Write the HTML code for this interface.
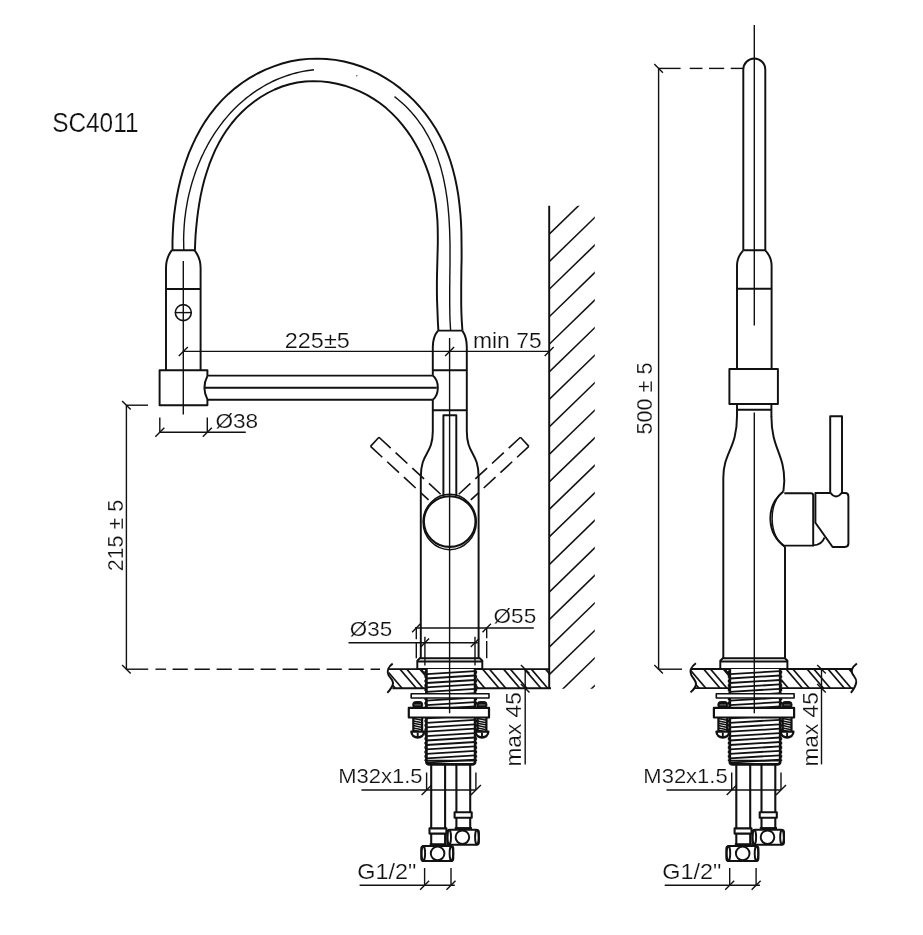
<!DOCTYPE html>
<html><head><meta charset="utf-8"><title>SC4011</title>
<style>
html,body{margin:0;padding:0;background:#fff;}
body{width:923px;height:935px;overflow:hidden;}
svg{display:block;}
text{font-family:"Liberation Sans",sans-serif;fill:#111;stroke:#fff;stroke-width:0.2px;}
svg{filter:grayscale(1);}
.m{fill:none;stroke:#111;stroke-width:1.95;stroke-linecap:butt;stroke-linejoin:round;}
.mw{fill:#fff;stroke:#111;stroke-width:1.95;stroke-linejoin:round;}
.k{fill:none;stroke:#111;stroke-width:2.2;stroke-linejoin:round;}
.kf{fill:#111;stroke:#111;stroke-width:1;}
.t{fill:none;stroke:#111;stroke-width:1.4;}
.h{fill:none;stroke:#111;stroke-width:1.7;}
.wh{fill:none;stroke:#111;stroke-width:1.55;}
.th{fill:none;stroke:#111;stroke-width:1.8;}
.tb{fill:none;stroke:#111;stroke-width:2.1;}
.k2{fill:none;stroke:#111;stroke-width:2.7;stroke-linejoin:round;}
.d{fill:none;stroke:#111;stroke-width:1.6;stroke-dasharray:16 6.7;}
</style></head>
<body>
<svg width="923" height="935" viewBox="0 0 923 935">
<rect width="923" height="935" fill="#fff"/>
<path class="m" d="M172.5,250.0 L172.5,241.4 L172.8,232.7 L173.3,223.9 L174.1,215.1 L175.3,206.1 L176.7,197.2 L178.5,188.2 L180.6,179.3 L183.0,170.5 L185.8,161.8 L188.9,153.2 L192.5,144.9 L196.4,136.7 L200.7,128.8 L205.4,121.1 L210.5,113.8 L216.0,106.8 L222.0,100.1 L228.4,93.9 L235.2,88.1 L242.3,82.7 L249.7,77.9 L257.5,73.5 L265.5,69.6 L273.8,66.3 L282.2,63.5 L290.8,61.3 L299.6,59.8 L308.4,58.9 L317.4,58.6 L326.3,59.0 L335.2,59.9 L344.1,61.5 L352.8,63.7 L361.3,66.5 L369.7,69.8 L377.8,73.7 L385.6,78.1 L393.2,83.0 L400.4,88.4 L407.3,94.2 L413.8,100.4 L419.9,107.0 L425.6,113.9 L430.9,121.2 L435.8,128.7 L440.1,136.5 L444.0,144.4 L447.4,152.6 L450.4,161.0 L452.9,169.5 L455.1,178.2 L456.9,187.0 L458.4,195.9 L459.5,204.8 L460.4,213.8 L461.0,222.8 L461.4,231.9 L461.5,240.9 L461.6,250.0 L461.6,259.1 L461.4,268.1 L461.3,277.1 L461.2,286.1 L461.2,295.1 L461.2,304.0 L461.4,312.8 L461.8,321.6 L462.4,330.2" />
<path class="m" d="M194.9,250.2 L195.2,242.5 L195.6,234.7 L196.3,226.9 L197.1,219.0 L198.1,211.1 L199.3,203.3 L200.7,195.4 L202.4,187.6 L204.4,179.8 L206.7,172.2 L209.2,164.7 L212.1,157.3 L215.2,150.1 L218.8,143.1 L222.7,136.3 L226.9,129.8 L231.6,123.5 L236.7,117.4 L242.2,111.7 L248.0,106.4 L254.3,101.5 L260.8,97.0 L267.6,93.0 L274.7,89.5 L282.1,86.5 L289.6,84.2 L297.3,82.5 L305.2,81.5 L313.1,81.1 L321.1,81.4 L329.1,82.3 L337.0,83.7 L344.8,85.7 L352.4,88.3 L359.8,91.3 L366.9,94.9 L373.6,98.9 L380.1,103.3 L386.2,108.1 L391.9,113.4 L397.3,118.9 L402.4,124.8 L407.2,131.1 L411.6,137.5 L415.6,144.3 L419.4,151.3 L422.7,158.4 L425.8,165.8 L428.5,173.3 L430.8,180.9 L432.8,188.6 L434.5,196.4 L435.8,204.3 L436.7,212.1 L437.4,220.0 L437.7,227.9 L437.8,235.8 L437.8,243.7 L437.6,251.6 L437.4,259.5 L437.2,267.4 L437.0,275.3 L436.9,283.2 L436.9,291.1 L437.0,299.0 L437.3,306.9 L437.6,314.8 L437.9,322.7 L438.4,330.6" />
<path class="t" d="M183.9,250.2 L183.7,246.7 L183.7,243.3 L183.6,239.8 L183.7,236.3 L183.8,232.7 L184.0,229.2 L184.2,225.7 L184.5,222.2 L184.8,218.6 L185.3,215.1 L185.7,211.6 L186.3,208.1 L186.9,204.6 L187.5,201.1 L188.2,197.6 L189.0,194.1 L189.9,190.6 L190.8,187.1 L191.7,183.7 L192.8,180.3 L193.9,176.9 L195.0,173.5 L196.2,170.1 L197.5,166.8 L198.8,163.5 L200.2,160.2 L201.6,156.9 L203.2,153.7 L204.7,150.5 L206.4,147.4 L208.0,144.3 L209.8,141.2 L211.6,138.1 L213.5,135.1 L215.4,132.2 L217.4,129.3 L219.5,126.4 L221.6,123.6 L223.7,120.8 L226.0,118.1 L228.3,115.4 L230.6,112.8 L233.0,110.3 L235.5,107.8 L238.0,105.3 L240.6,103.0 L243.2,100.7 L245.9,98.4 L248.7,96.3 L251.5,94.1 L254.3,92.1 L257.2,90.2 L260.2,88.3 L263.2,86.5 L266.3,84.7 L269.4,83.1 L272.5,81.5 L275.7,80.0 L279.0,78.6 L282.3,77.3 L285.6,76.1 L289.0,75.0 L292.5,73.9 L295.9,73.0 L299.5,72.1 L303.0,71.4 L306.6,70.7 L310.3,70.2 L314.0,69.7" />
<path class="t" d="M394.5,96.6 L397.5,99.0 L400.4,101.5 L403.3,104.0 L406.0,106.6 L408.6,109.2 L411.1,111.9 L413.5,114.7 L415.8,117.5 L418.0,120.3 L420.1,123.3 L422.2,126.2 L424.1,129.2 L425.9,132.3 L427.7,135.4 L429.4,138.5 L431.0,141.7 L432.5,144.9 L433.9,148.2 L435.3,151.5 L436.6,154.8 L437.8,158.2 L438.9,161.6 L440.0,165.0 L441.0,168.4 L441.9,171.9 L442.8,175.4 L443.6,178.9 L444.3,182.4 L445.0,186.0 L445.7,189.5 L446.2,193.1 L446.8,196.7 L447.3,200.3 L447.7,203.9 L448.1,207.5 L448.4,211.1 L448.7,214.8 L449.0,218.4 L449.2,222.0 L449.4,225.6 L449.6,229.3 L449.7,232.9 L449.8,236.5 L449.9,240.2 L450.0,243.8 L450.0,247.4 L450.0,251.1 L450.0,254.7 L450.0,258.3 L450.0,262.0 L450.0,265.6 L449.9,269.2 L449.9,272.9 L449.8,276.5 L449.8,280.1 L449.8,283.7 L449.7,287.3 L449.7,291.0 L449.7,294.6 L449.7,298.2 L449.7,301.8 L449.7,305.4 L449.8,309.0 L449.8,312.6 L449.9,316.2 L450.0,319.8 L450.2,323.3 L450.4,326.9 L450.6,330.5" />
<circle cx="356.8" cy="75.8" r="0.7" fill="#444"/>
<path class="m" d="M171.7,250.3 L194.6,250.3 M171.7,250.3 Q166,258 166,268 L166,370.3 M194.6,250.3 Q200.6,258 200.6,268 L200.6,370.3" />
<line class="m" x1="166.0" y1="289.0" x2="200.6" y2="289.0" />
<circle class="m" cx="183.3" cy="312.6" r="8" style="stroke-width:1.6"/>
<line class="t" x1="175.3" y1="312.6" x2="191.3" y2="312.6" />
<line class="t" x1="183.3" y1="261.0" x2="183.3" y2="414.5" />
<path class="m" d="M207.4,376 L207.4,370.3 L159.6,370.3 L159.6,405.2 L207.4,405.2 L207.4,399.4 Q201.5,387.6 207.4,376" />
<line class="m" x1="207.4" y1="375.6" x2="432.8" y2="375.6" />
<line class="m" x1="205.0" y1="387.7" x2="436.8" y2="387.7" />
<line class="m" x1="207.4" y1="399.8" x2="432.8" y2="399.8" />
<path class="m" d="M432.8,375.6 C439.5,381 439.5,394.5 432.8,399.8" />
<path class="m" d="M438,330.6 L462.3,330.6 M438,330.6 Q432.8,337 432.8,347 L432.8,375.6 M432.8,399.8 L432.8,431 M462.3,330.6 Q466.8,337 466.8,347 L466.8,431" />
<line class="m" x1="432.8" y1="370.2" x2="466.8" y2="370.2" />
<line class="m" x1="432.8" y1="410.2" x2="466.8" y2="410.2" />
<path class="m" d="M432.8,431 C432.8,455 420.8,452 420.8,477 L420.8,658" />
<path class="m" d="M466.8,431 C466.8,455 478.6,452 478.6,477 L478.6,658" />
<path class="m" d="M443.4,496 L443.4,415.2 L456.3,415.2 L456.3,496" />
<ellipse class="m" cx="449.70000000000005" cy="521.55" rx="25.8" ry="25.35" style="stroke-width:2.05"/>
<ellipse class="t" cx="449.70000000000005" cy="522" rx="26.6" ry="27.7" style="stroke-width:1.45"/>
<g transform="translate(449.70000000000005 511) scale(-1 1) rotate(-47.3)"><path class="d" d="M-6.2,-102 L-6.2,-23"/><path class="d" d="M6.2,-102 L6.2,-18"/><path class="d" d="M-6.2,-102 L6.2,-102"/></g>
<g transform="translate(449.70000000000005 511) scale(1 1) rotate(-47.3)"><path class="d" d="M-6.2,-102 L-6.2,-23"/><path class="d" d="M6.2,-102 L6.2,-18"/><path class="d" d="M-6.2,-102 L6.2,-102"/></g>
<line class="t" x1="183.3" y1="351.4" x2="549.2" y2="351.4" />
<line class="t" x1="178.8" y1="355.9" x2="187.8" y2="346.9" />
<line class="t" x1="445.1" y1="355.9" x2="454.1" y2="346.9" />
<line class="t" x1="544.7" y1="355.9" x2="553.7" y2="346.9" />
<text x="284.8" y="348.3" font-size="21.3" text-anchor="start" textLength="65.0" lengthAdjust="spacingAndGlyphs">225±5</text>
<text x="473.0" y="348.3" font-size="21.3" text-anchor="start" textLength="68.6" lengthAdjust="spacingAndGlyphs">min 75</text>
<line class="t" x1="159.8" y1="417.5" x2="159.8" y2="432.3" />
<line class="t" x1="207.3" y1="417.5" x2="207.3" y2="432.3" />
<line class="t" x1="159.8" y1="432.3" x2="245.8" y2="432.3" />
<line class="t" x1="155.3" y1="436.8" x2="164.3" y2="427.8" />
<line class="t" x1="202.8" y1="436.8" x2="211.8" y2="427.8" />
<text x="215.4" y="428.2" font-size="21" text-anchor="start" textLength="42.8" lengthAdjust="spacingAndGlyphs">Ø38</text>
<line class="t" x1="126.4" y1="405.2" x2="126.4" y2="669.2" />
<line class="t" x1="126.4" y1="405.2" x2="148.0" y2="405.2" />
<line class="t" x1="122.1" y1="400.9" x2="130.7" y2="409.5" />
<line class="t" x1="122.1" y1="664.9" x2="130.7" y2="673.5" />
<line class="t" x1="126.4" y1="669.2" x2="148.2" y2="669.2" />
<line class="t" x1="155.5" y1="669.2" x2="166.1" y2="669.2" />
<line class="t" x1="172.6" y1="669.2" x2="380.0" y2="669.2" stroke-dasharray="15.2 6.8"/>
<text x="0" y="0" font-size="22" textLength="71.4" lengthAdjust="spacingAndGlyphs" transform="translate(123.2 571.3) rotate(-90)">215 ± 5</text>
<line class="t" x1="414.9" y1="628.0" x2="533.8" y2="628.0" />
<line class="t" x1="348.5" y1="642.7" x2="477.8" y2="642.7" />
<text x="493.6" y="622.7" font-size="21" text-anchor="start" textLength="42.6" lengthAdjust="spacingAndGlyphs">Ø55</text>
<text x="349.8" y="636.3" font-size="21" text-anchor="start" textLength="42.3" lengthAdjust="spacingAndGlyphs">Ø35</text>
<line class="t" x1="416.3" y1="628.0" x2="416.3" y2="639.3" />
<line class="t" x1="416.3" y1="642.0" x2="416.3" y2="658.3" />
<line class="t" x1="486.7" y1="628.0" x2="486.7" y2="638.3" />
<line class="t" x1="486.7" y1="641.0" x2="486.7" y2="658.3" />
<line class="t" x1="412.1" y1="632.2" x2="420.5" y2="623.8" />
<line class="t" x1="482.5" y1="632.2" x2="490.9" y2="623.8" />
<line class="t" x1="420.7" y1="646.9" x2="429.1" y2="638.5" />
<line class="t" x1="470.8" y1="646.9" x2="479.2" y2="638.5" />
<clipPath id="wc"><rect x="549.2" y="205.7" width="45.6" height="483"/></clipPath>
<g clip-path="url(#wc)"><line class="wh" x1="549.2" y1="234.2" x2="609.2" y2="176.0"/><line class="wh" x1="549.2" y1="261.7" x2="609.2" y2="203.5"/><line class="wh" x1="549.2" y1="289.3" x2="609.2" y2="231.1"/><line class="wh" x1="549.2" y1="316.8" x2="609.2" y2="258.6"/><line class="wh" x1="549.2" y1="344.3" x2="609.2" y2="286.1"/><line class="wh" x1="549.2" y1="371.9" x2="609.2" y2="313.7"/><line class="wh" x1="549.2" y1="399.4" x2="609.2" y2="341.2"/><line class="wh" x1="549.2" y1="426.9" x2="609.2" y2="368.7"/><line class="wh" x1="549.2" y1="454.4" x2="609.2" y2="396.2"/><line class="wh" x1="549.2" y1="482.0" x2="609.2" y2="423.8"/><line class="wh" x1="549.2" y1="509.5" x2="609.2" y2="451.3"/><line class="wh" x1="549.2" y1="537.0" x2="609.2" y2="478.8"/><line class="wh" x1="549.2" y1="564.6" x2="609.2" y2="506.4"/><line class="wh" x1="549.2" y1="592.1" x2="609.2" y2="533.9"/><line class="wh" x1="549.2" y1="619.6" x2="609.2" y2="561.4"/><line class="wh" x1="549.2" y1="647.2" x2="609.2" y2="589.0"/><line class="wh" x1="549.2" y1="674.7" x2="609.2" y2="616.5"/><line class="wh" x1="549.2" y1="702.2" x2="609.2" y2="644.0"/><line class="wh" x1="549.2" y1="729.7" x2="609.2" y2="671.5"/><line class="wh" x1="549.2" y1="757.3" x2="609.2" y2="699.1"/></g>
<line class="m" x1="549.2" y1="205.7" x2="549.2" y2="688.7" />
<clipPath id="c1"><path d="M389,669.2 L425,669.2 L425,688.2 L392.4,688.2 L393,683.5 L388.5,675 Z"/><rect x="476.5" y="669.2" width="73" height="19"/></clipPath>
<g clip-path="url(#c1)"><line class="h" x1="337.1" y1="669.2" x2="353.4" y2="688.2"/><line class="h" x1="343.9" y1="669.2" x2="360.2" y2="688.2"/><line class="h" x1="358.1" y1="669.2" x2="374.4" y2="688.2"/><line class="h" x1="364.9" y1="669.2" x2="381.2" y2="688.2"/><line class="h" x1="379.0" y1="669.2" x2="395.3" y2="688.2"/><line class="h" x1="385.8" y1="669.2" x2="402.1" y2="688.2"/><line class="h" x1="400.0" y1="669.2" x2="416.3" y2="688.2"/><line class="h" x1="406.8" y1="669.2" x2="423.1" y2="688.2"/><line class="h" x1="420.9" y1="669.2" x2="437.2" y2="688.2"/><line class="h" x1="427.7" y1="669.2" x2="444.0" y2="688.2"/><line class="h" x1="419.9" y1="669.2" x2="436.2" y2="688.2"/><line class="h" x1="426.7" y1="669.2" x2="443.0" y2="688.2"/><line class="h" x1="440.8" y1="669.2" x2="457.1" y2="688.2"/><line class="h" x1="447.6" y1="669.2" x2="463.9" y2="688.2"/><line class="h" x1="461.8" y1="669.2" x2="478.1" y2="688.2"/><line class="h" x1="468.6" y1="669.2" x2="484.9" y2="688.2"/><line class="h" x1="482.7" y1="669.2" x2="499.0" y2="688.2"/><line class="h" x1="489.5" y1="669.2" x2="505.8" y2="688.2"/><line class="h" x1="503.6" y1="669.2" x2="519.9" y2="688.2"/><line class="h" x1="510.4" y1="669.2" x2="526.8" y2="688.2"/><line class="h" x1="524.6" y1="669.2" x2="540.9" y2="688.2"/><line class="h" x1="531.4" y1="669.2" x2="547.7" y2="688.2"/><line class="h" x1="545.6" y1="669.2" x2="561.9" y2="688.2"/><line class="h" x1="552.4" y1="669.2" x2="568.6" y2="688.2"/></g>
<path class="m" d="M389,669.1 L417.3,669.1 M482.3,669.1 L549.2,669.1 M392.4,688.2 L425.6,688.2 M476,688.2 L551,688.2" />
<path class="m" d="M392.7,663.6 C388.5,666.5 386.5,671 388.5,675 C390,678 393.5,680 393,683.5 C392.5,687 390,690 387.3,692.9" />
<g transform="translate(449.6 0)"><path class="mw" d="M-32.3,668.9 L-32.3,660.8 L-29.799999999999997,658.3 L30.2,658.3 L32.7,660.8 L32.7,668.9 Z" />
<line class="m" x1="-32.3" y1="661.4" x2="32.7" y2="661.4" />
<line class="k2" x1="-23.2" y1="669.8" x2="25.5" y2="669.8" />
<rect x="-23.2" y="669" width="48.7" height="95" fill="#fff"/>
<line class="th" x1="-23.2" y1="674.1" x2="25.5" y2="671.1" />
<line class="th" x1="-23.2" y1="678.5" x2="25.5" y2="675.5" />
<line class="th" x1="-23.2" y1="683.0" x2="25.5" y2="680.0" />
<line class="th" x1="-23.2" y1="687.4" x2="25.5" y2="684.4" />
<line class="th" x1="-23.2" y1="691.8" x2="25.5" y2="688.8" />
<line class="th" x1="-23.2" y1="696.2" x2="25.5" y2="693.2" />
<line class="th" x1="-23.2" y1="700.7" x2="25.5" y2="697.7" />
<line class="th" x1="-23.2" y1="705.1" x2="25.5" y2="702.1" />
<line class="th" x1="-23.2" y1="709.5" x2="25.5" y2="706.5" />
<line class="th" x1="-23.2" y1="714.0" x2="25.5" y2="711.0" />
<line class="th" x1="-23.2" y1="718.4" x2="25.5" y2="715.4" />
<line class="th" x1="-23.2" y1="722.8" x2="25.5" y2="719.8" />
<line class="th" x1="-23.2" y1="727.3" x2="25.5" y2="724.3" />
<line class="th" x1="-23.2" y1="731.7" x2="25.5" y2="728.7" />
<line class="th" x1="-23.2" y1="736.1" x2="25.5" y2="733.1" />
<line class="th" x1="-23.2" y1="740.5" x2="25.5" y2="737.5" />
<line class="th" x1="-23.2" y1="745.0" x2="25.5" y2="742.0" />
<line class="th" x1="-23.2" y1="749.4" x2="25.5" y2="746.4" />
<line class="th" x1="-23.2" y1="753.8" x2="25.5" y2="750.8" />
<line class="th" x1="-23.2" y1="758.3" x2="25.5" y2="755.3" />
<line class="th" x1="-23.2" y1="762.7" x2="25.5" y2="759.7" />
<path class="k2" d="M-23.2,669 L-23.2,761.5 Q-23.2,764.4 -20.2,764.4 L22.5,764.4 Q25.5,764.4 25.5,761.5 L25.5,669" />
<line class="m" x1="-23.2" y1="760.6" x2="25.5" y2="760.6" />
<line class="t" x1="-24.5" y1="671.0" x2="-24.5" y2="761.0" stroke-dasharray="2.4 2.03" stroke-width="1.4"/>
<line class="t" x1="26.8" y1="671.0" x2="26.8" y2="761.0" stroke-dasharray="2.4 2.03" stroke-width="1.4"/>
<rect class="mw" x="-38.4" y="693.7" width="77.8" height="4.3" style="stroke-width:1.6"/>
<rect class="kf" x="-36.8" y="701.6" width="9.8" height="6.4" rx="2.6"/>
<line class="t" x1="-35.1" y1="704.9" x2="-28.7" y2="704.9" style="stroke:#777;stroke-width:1"/>
<rect x="-36.5" y="717.5" width="9.2" height="13.5" fill="#fff"/>
<line class="t" x1="-36.3" y1="718.5" x2="-27.5" y2="720.3" style="stroke-width:1.5"/>
<line class="t" x1="-36.3" y1="720.9" x2="-27.5" y2="722.7" style="stroke-width:1.5"/>
<line class="t" x1="-36.3" y1="723.2" x2="-27.5" y2="725.0" style="stroke-width:1.5"/>
<line class="t" x1="-36.3" y1="725.6" x2="-27.5" y2="727.4" style="stroke-width:1.5"/>
<line class="t" x1="-36.3" y1="727.9" x2="-27.5" y2="729.7" style="stroke-width:1.5"/>
<line class="t" x1="-36.3" y1="730.3" x2="-27.5" y2="732.1" style="stroke-width:1.5"/>
<line class="t" x1="-36.3" y1="717.5" x2="-36.3" y2="731.0" style="stroke-width:2.2"/>
<line class="t" x1="-27.5" y1="717.5" x2="-27.5" y2="731.0" style="stroke-width:2.2"/>
<path class="mw" d="M-38.2,731.6 L-25.6,731.6 C-25.6,739.4 -38.2,739.4 -38.2,731.6 Z" style="stroke-width:2.4"/>
<line class="t" x1="-31.9" y1="732.5" x2="-31.9" y2="737.4" style="stroke-width:1.9"/>
<rect class="kf" x="27.5" y="701.6" width="9.8" height="6.4" rx="2.6"/>
<line class="t" x1="29.2" y1="704.9" x2="35.6" y2="704.9" style="stroke:#777;stroke-width:1"/>
<rect x="27.8" y="717.5" width="9.2" height="13.5" fill="#fff"/>
<line class="t" x1="28.0" y1="718.5" x2="36.8" y2="720.3" style="stroke-width:1.5"/>
<line class="t" x1="28.0" y1="720.9" x2="36.8" y2="722.7" style="stroke-width:1.5"/>
<line class="t" x1="28.0" y1="723.2" x2="36.8" y2="725.0" style="stroke-width:1.5"/>
<line class="t" x1="28.0" y1="725.6" x2="36.8" y2="727.4" style="stroke-width:1.5"/>
<line class="t" x1="28.0" y1="727.9" x2="36.8" y2="729.7" style="stroke-width:1.5"/>
<line class="t" x1="28.0" y1="730.3" x2="36.8" y2="732.1" style="stroke-width:1.5"/>
<line class="t" x1="28.0" y1="717.5" x2="28.0" y2="731.0" style="stroke-width:2.2"/>
<line class="t" x1="36.8" y1="717.5" x2="36.8" y2="731.0" style="stroke-width:2.2"/>
<path class="mw" d="M26.1,731.6 L38.7,731.6 C38.7,739.4 26.1,739.4 26.1,731.6 Z" style="stroke-width:2.4"/>
<line class="t" x1="32.4" y1="732.5" x2="32.4" y2="737.4" style="stroke-width:1.9"/>
<rect class="mw" x="-40.8" y="707.8" width="80.2" height="9.7" style="stroke-width:2.2"/>
<line class="tb" x1="-18.4" y1="764.4" x2="-18.4" y2="828.4" />
<line class="tb" x1="-4.5" y1="764.4" x2="-4.5" y2="828.4" />
<line class="tb" x1="6.8" y1="764.4" x2="6.8" y2="812.3" />
<line class="tb" x1="20.6" y1="764.4" x2="20.6" y2="812.3" />
<rect class="mw" x="5" y="812.3" width="17.1" height="5.4" style="stroke-width:2.1"/>
<line class="tb" x1="6.8" y1="817.7" x2="6.8" y2="828.0" />
<line class="tb" x1="20.6" y1="817.7" x2="20.6" y2="828.0" />
<rect class="kf" x="5.6" y="827.6" width="16.2" height="2"/>
<rect class="mw" x="-2.3" y="829.7" width="31.6" height="15.1" rx="2.6" style="stroke-width:2"/>
<ellipse class="m" cx="-0.4" cy="837.2" rx="1.8" ry="7.2"/>
<ellipse class="m" cx="27.3" cy="837.2" rx="1.8" ry="7.2"/>
<circle class="m" cx="12.8" cy="837.2" r="6.8"/>
<rect class="mw" x="-20.1" y="828.4" width="16.9" height="5.2" style="stroke-width:2.1"/>
<line class="tb" x1="-18.4" y1="833.6" x2="-18.4" y2="844.2" />
<line class="tb" x1="-4.5" y1="833.6" x2="-4.5" y2="844.2" />
<rect class="kf" x="-19.4" y="843.8" width="16" height="2"/>
<rect class="mw" x="-28.3" y="846" width="32" height="15" rx="2.6" style="stroke-width:2"/>
<ellipse class="m" cx="-26.3" cy="853.4" rx="1.8" ry="7.2"/>
<ellipse class="m" cx="1.8" cy="853.4" rx="1.8" ry="7.2"/>
<circle class="m" cx="-12" cy="853.4" r="6.8"/>
<line class="t" x1="-88.2" y1="790.0" x2="26.0" y2="790.0" />
<line class="t" x1="-23.0" y1="772.5" x2="-23.0" y2="790.0" />
<line class="t" x1="26.3" y1="772.5" x2="26.3" y2="790.0" />
<line class="t" x1="-28.0" y1="795.0" x2="-18.0" y2="785.0" />
<line class="t" x1="21.3" y1="795.0" x2="31.3" y2="785.0" />
<line class="t" x1="-90.0" y1="885.2" x2="5.2" y2="885.2" />
<line class="t" x1="-25.0" y1="868.0" x2="-25.0" y2="885.2" />
<line class="t" x1="1.4" y1="868.0" x2="1.4" y2="885.2" />
<line class="t" x1="-29.5" y1="889.7" x2="-20.5" y2="880.7" />
<line class="t" x1="-3.1" y1="889.7" x2="5.9" y2="880.7" />
<line class="t" x1="75.6" y1="669.0" x2="75.6" y2="764.4" />
<line class="t" x1="71.3" y1="664.9" x2="79.9" y2="673.5" />
<line class="t" x1="71.3" y1="683.9" x2="79.9" y2="692.5" />
<text x="0" y="0" font-size="22" textLength="74.5" lengthAdjust="spacingAndGlyphs" transform="translate(71.6 766.6) rotate(-90)">max 45</text>
<text x="-111.4" y="783.4" font-size="21" textLength="84.4" lengthAdjust="spacingAndGlyphs">M32x1.5</text>
<text x="-92.4" y="878.6" font-size="21.5" textLength="59" lengthAdjust="spacingAndGlyphs">G1/2&quot;</text></g>
<line class="t" x1="449.6" y1="337.9" x2="449.6" y2="713.2" />
<line class="t" x1="424.9" y1="636.7" x2="424.9" y2="665.4" />
<line class="t" x1="475.0" y1="636.7" x2="475.0" y2="665.4" />
<path class="m" d="M743.3,250.3 L743.3,69.5 A11,11 0 0 1 765.3,69.5 L765.3,250.3" />
<path class="m" d="M743.3,250.3 L765.3,250.3 M743.3,250.3 Q737,257 737,266 L737,369 M765.3,250.3 Q771.6,257 771.6,266 L771.6,369" />
<line class="m" x1="737.0" y1="288.7" x2="771.6" y2="288.7" />
<rect class="m" x="729.4" y="369" width="48.5" height="35"/>
<path class="m" d="M737,404 L737,416.5 M771.4,404 L771.4,416.5" />
<line class="m" x1="737.0" y1="409.8" x2="771.6" y2="409.8" />
<path class="m" d="M737,416 C737,449 723.3,452 723.3,478 L723.3,658" />
<path class="m" d="M771.4,416 C771.4,449 784.3,453 784.3,481 L783.4,491.4 M785,546.6 L785,658" />
<path class="m" d="M783.4,491.4 A34.5,34.5 0 0 0 785,546.6 M784.6,545.6 L813.2,545.6 L813.2,495.6 Q813.2,493.2 810.8,493.2 L784.3,493.2" />
<path class="t" d="M783.2,491.2 C768.2,503 768.2,535 785,547.2" />
<path class="m" d="M830.2,493 L815.4,493 L815.4,522.8 L832.6,547 L845,547 Q848.4,547 848.4,543.6 L848.4,496.4 Q848.4,493 845,493 L842,493" />
<path class="m" d="M813,545.4 Q822,545 824.5,537.5" />
<path class="m" d="M830.2,492.5 L830.2,416.2 L842,416.2 L842,492.5 Q836.1,500.5 830.2,492.5" />
<line class="t" x1="658.6" y1="68.4" x2="658.6" y2="669.2" />
<line class="t" x1="658.6" y1="68.4" x2="680.6" y2="68.4" />
<line class="t" x1="689.7" y1="68.4" x2="702.5" y2="68.4" />
<line class="t" x1="709.0" y1="68.4" x2="724.2" y2="68.4" />
<line class="t" x1="730.7" y1="68.4" x2="743.1" y2="68.4" />
<line class="t" x1="654.3" y1="64.1" x2="662.9" y2="72.7" />
<line class="t" x1="654.3" y1="664.9" x2="662.9" y2="673.5" />
<line class="t" x1="658.6" y1="669.2" x2="682.0" y2="669.2" />
<text x="0" y="0" font-size="22" textLength="72" lengthAdjust="spacingAndGlyphs" transform="translate(652 434.5) rotate(-90)">500 ± 5</text>
<clipPath id="c2"><path d="M691.7,669.2 L730,669.2 L730,688.2 L694.7,688.2 L695.9,684.1 L690.5,672.2 Z"/><path d="M781.5,669.2 L851.6,669.2 L852.3,673.5 L856.3,682 L853,688.2 L781.5,688.2 Z"/></clipPath>
<g clip-path="url(#c2)"><line class="h" x1="640.9" y1="669.2" x2="657.2" y2="688.2"/><line class="h" x1="647.7" y1="669.2" x2="664.0" y2="688.2"/><line class="h" x1="661.9" y1="669.2" x2="678.2" y2="688.2"/><line class="h" x1="668.7" y1="669.2" x2="685.0" y2="688.2"/><line class="h" x1="682.9" y1="669.2" x2="699.1" y2="688.2"/><line class="h" x1="689.6" y1="669.2" x2="705.9" y2="688.2"/><line class="h" x1="703.8" y1="669.2" x2="720.1" y2="688.2"/><line class="h" x1="710.6" y1="669.2" x2="726.9" y2="688.2"/><line class="h" x1="724.8" y1="669.2" x2="741.1" y2="688.2"/><line class="h" x1="731.6" y1="669.2" x2="747.9" y2="688.2"/><line class="h" x1="723.4" y1="669.2" x2="739.6" y2="688.2"/><line class="h" x1="730.1" y1="669.2" x2="746.4" y2="688.2"/><line class="h" x1="744.3" y1="669.2" x2="760.6" y2="688.2"/><line class="h" x1="751.1" y1="669.2" x2="767.4" y2="688.2"/><line class="h" x1="765.3" y1="669.2" x2="781.6" y2="688.2"/><line class="h" x1="772.1" y1="669.2" x2="788.4" y2="688.2"/><line class="h" x1="786.2" y1="669.2" x2="802.5" y2="688.2"/><line class="h" x1="793.0" y1="669.2" x2="809.3" y2="688.2"/><line class="h" x1="807.2" y1="669.2" x2="823.5" y2="688.2"/><line class="h" x1="814.0" y1="669.2" x2="830.3" y2="688.2"/><line class="h" x1="828.1" y1="669.2" x2="844.4" y2="688.2"/><line class="h" x1="834.9" y1="669.2" x2="851.2" y2="688.2"/><line class="h" x1="849.1" y1="669.2" x2="865.4" y2="688.2"/><line class="h" x1="855.9" y1="669.2" x2="872.2" y2="688.2"/></g>
<path class="m" d="M691.7,669 L720.3,669 M787.4,669 L852,669 M694.7,688.1 L730.6,688.1 M781,688.1 L853.3,688.1" />
<path class="m" d="M695.9,663.2 C692,666 689.3,670.5 691.3,675 C693,678.5 696.5,681 696,684.5 C695.5,688 693,690 690.5,692.4" />
<path class="m" d="M856.9,663.4 C853.5,666 850.5,669.5 852.3,673.5 C853.8,676.5 856.8,678.5 856.3,682 C855.8,686 853.5,689.5 850.9,692.8" />
<g transform="translate(754.6999999999999 0)"><path class="mw" d="M-34.4,668.9 L-34.4,660.8 L-31.9,658.3 L30.2,658.3 L32.7,660.8 L32.7,668.9 Z" />
<line class="m" x1="-34.4" y1="661.4" x2="32.7" y2="661.4" />
<line class="k2" x1="-24.9" y1="669.8" x2="25.5" y2="669.8" />
<rect x="-24.9" y="669" width="50.4" height="95" fill="#fff"/>
<line class="th" x1="-24.9" y1="674.1" x2="25.5" y2="671.1" />
<line class="th" x1="-24.9" y1="678.5" x2="25.5" y2="675.5" />
<line class="th" x1="-24.9" y1="683.0" x2="25.5" y2="680.0" />
<line class="th" x1="-24.9" y1="687.4" x2="25.5" y2="684.4" />
<line class="th" x1="-24.9" y1="691.8" x2="25.5" y2="688.8" />
<line class="th" x1="-24.9" y1="696.2" x2="25.5" y2="693.2" />
<line class="th" x1="-24.9" y1="700.7" x2="25.5" y2="697.7" />
<line class="th" x1="-24.9" y1="705.1" x2="25.5" y2="702.1" />
<line class="th" x1="-24.9" y1="709.5" x2="25.5" y2="706.5" />
<line class="th" x1="-24.9" y1="714.0" x2="25.5" y2="711.0" />
<line class="th" x1="-24.9" y1="718.4" x2="25.5" y2="715.4" />
<line class="th" x1="-24.9" y1="722.8" x2="25.5" y2="719.8" />
<line class="th" x1="-24.9" y1="727.3" x2="25.5" y2="724.3" />
<line class="th" x1="-24.9" y1="731.7" x2="25.5" y2="728.7" />
<line class="th" x1="-24.9" y1="736.1" x2="25.5" y2="733.1" />
<line class="th" x1="-24.9" y1="740.5" x2="25.5" y2="737.5" />
<line class="th" x1="-24.9" y1="745.0" x2="25.5" y2="742.0" />
<line class="th" x1="-24.9" y1="749.4" x2="25.5" y2="746.4" />
<line class="th" x1="-24.9" y1="753.8" x2="25.5" y2="750.8" />
<line class="th" x1="-24.9" y1="758.3" x2="25.5" y2="755.3" />
<line class="th" x1="-24.9" y1="762.7" x2="25.5" y2="759.7" />
<path class="k2" d="M-24.9,669 L-24.9,761.5 Q-24.9,764.4 -21.9,764.4 L22.5,764.4 Q25.5,764.4 25.5,761.5 L25.5,669" />
<line class="m" x1="-24.9" y1="760.6" x2="25.5" y2="760.6" />
<line class="t" x1="-26.2" y1="671.0" x2="-26.2" y2="761.0" stroke-dasharray="2.4 2.03" stroke-width="1.4"/>
<line class="t" x1="26.8" y1="671.0" x2="26.8" y2="761.0" stroke-dasharray="2.4 2.03" stroke-width="1.4"/>
<rect class="mw" x="-38.4" y="693.7" width="77.8" height="4.3" style="stroke-width:1.6"/>
<rect class="kf" x="-36.8" y="701.6" width="9.8" height="6.4" rx="2.6"/>
<line class="t" x1="-35.1" y1="704.9" x2="-28.7" y2="704.9" style="stroke:#777;stroke-width:1"/>
<rect x="-36.5" y="717.5" width="9.2" height="13.5" fill="#fff"/>
<line class="t" x1="-36.3" y1="718.5" x2="-27.5" y2="720.3" style="stroke-width:1.5"/>
<line class="t" x1="-36.3" y1="720.9" x2="-27.5" y2="722.7" style="stroke-width:1.5"/>
<line class="t" x1="-36.3" y1="723.2" x2="-27.5" y2="725.0" style="stroke-width:1.5"/>
<line class="t" x1="-36.3" y1="725.6" x2="-27.5" y2="727.4" style="stroke-width:1.5"/>
<line class="t" x1="-36.3" y1="727.9" x2="-27.5" y2="729.7" style="stroke-width:1.5"/>
<line class="t" x1="-36.3" y1="730.3" x2="-27.5" y2="732.1" style="stroke-width:1.5"/>
<line class="t" x1="-36.3" y1="717.5" x2="-36.3" y2="731.0" style="stroke-width:2.2"/>
<line class="t" x1="-27.5" y1="717.5" x2="-27.5" y2="731.0" style="stroke-width:2.2"/>
<path class="mw" d="M-38.2,731.6 L-25.6,731.6 C-25.6,739.4 -38.2,739.4 -38.2,731.6 Z" style="stroke-width:2.4"/>
<line class="t" x1="-31.9" y1="732.5" x2="-31.9" y2="737.4" style="stroke-width:1.9"/>
<rect class="kf" x="27.5" y="701.6" width="9.8" height="6.4" rx="2.6"/>
<line class="t" x1="29.2" y1="704.9" x2="35.6" y2="704.9" style="stroke:#777;stroke-width:1"/>
<rect x="27.8" y="717.5" width="9.2" height="13.5" fill="#fff"/>
<line class="t" x1="28.0" y1="718.5" x2="36.8" y2="720.3" style="stroke-width:1.5"/>
<line class="t" x1="28.0" y1="720.9" x2="36.8" y2="722.7" style="stroke-width:1.5"/>
<line class="t" x1="28.0" y1="723.2" x2="36.8" y2="725.0" style="stroke-width:1.5"/>
<line class="t" x1="28.0" y1="725.6" x2="36.8" y2="727.4" style="stroke-width:1.5"/>
<line class="t" x1="28.0" y1="727.9" x2="36.8" y2="729.7" style="stroke-width:1.5"/>
<line class="t" x1="28.0" y1="730.3" x2="36.8" y2="732.1" style="stroke-width:1.5"/>
<line class="t" x1="28.0" y1="717.5" x2="28.0" y2="731.0" style="stroke-width:2.2"/>
<line class="t" x1="36.8" y1="717.5" x2="36.8" y2="731.0" style="stroke-width:2.2"/>
<path class="mw" d="M26.1,731.6 L38.7,731.6 C38.7,739.4 26.1,739.4 26.1,731.6 Z" style="stroke-width:2.4"/>
<line class="t" x1="32.4" y1="732.5" x2="32.4" y2="737.4" style="stroke-width:1.9"/>
<rect class="mw" x="-40.8" y="707.8" width="80.2" height="9.7" style="stroke-width:2.2"/>
<line class="tb" x1="-18.4" y1="764.4" x2="-18.4" y2="828.4" />
<line class="tb" x1="-4.5" y1="764.4" x2="-4.5" y2="828.4" />
<line class="tb" x1="6.8" y1="764.4" x2="6.8" y2="812.3" />
<line class="tb" x1="20.6" y1="764.4" x2="20.6" y2="812.3" />
<rect class="mw" x="5" y="812.3" width="17.1" height="5.4" style="stroke-width:2.1"/>
<line class="tb" x1="6.8" y1="817.7" x2="6.8" y2="828.0" />
<line class="tb" x1="20.6" y1="817.7" x2="20.6" y2="828.0" />
<rect class="kf" x="5.6" y="827.6" width="16.2" height="2"/>
<rect class="mw" x="-2.3" y="829.7" width="31.6" height="15.1" rx="2.6" style="stroke-width:2"/>
<ellipse class="m" cx="-0.4" cy="837.2" rx="1.8" ry="7.2"/>
<ellipse class="m" cx="27.3" cy="837.2" rx="1.8" ry="7.2"/>
<circle class="m" cx="12.8" cy="837.2" r="6.8"/>
<rect class="mw" x="-20.1" y="828.4" width="16.9" height="5.2" style="stroke-width:2.1"/>
<line class="tb" x1="-18.4" y1="833.6" x2="-18.4" y2="844.2" />
<line class="tb" x1="-4.5" y1="833.6" x2="-4.5" y2="844.2" />
<rect class="kf" x="-19.4" y="843.8" width="16" height="2"/>
<rect class="mw" x="-28.3" y="846" width="32" height="15" rx="2.6" style="stroke-width:2"/>
<ellipse class="m" cx="-26.3" cy="853.4" rx="1.8" ry="7.2"/>
<ellipse class="m" cx="1.8" cy="853.4" rx="1.8" ry="7.2"/>
<circle class="m" cx="-12" cy="853.4" r="6.8"/>
<line class="t" x1="-88.2" y1="790.0" x2="26.0" y2="790.0" />
<line class="t" x1="-23.0" y1="772.5" x2="-23.0" y2="790.0" />
<line class="t" x1="26.3" y1="772.5" x2="26.3" y2="790.0" />
<line class="t" x1="-28.0" y1="795.0" x2="-18.0" y2="785.0" />
<line class="t" x1="21.3" y1="795.0" x2="31.3" y2="785.0" />
<line class="t" x1="-90.0" y1="885.2" x2="5.2" y2="885.2" />
<line class="t" x1="-25.0" y1="868.0" x2="-25.0" y2="885.2" />
<line class="t" x1="1.4" y1="868.0" x2="1.4" y2="885.2" />
<line class="t" x1="-29.5" y1="889.7" x2="-20.5" y2="880.7" />
<line class="t" x1="-3.1" y1="889.7" x2="5.9" y2="880.7" />
<line class="t" x1="66.8" y1="669.0" x2="66.8" y2="764.4" />
<line class="t" x1="62.5" y1="664.9" x2="71.1" y2="673.5" />
<line class="t" x1="62.5" y1="683.9" x2="71.1" y2="692.5" />
<text x="0" y="0" font-size="22" textLength="74.5" lengthAdjust="spacingAndGlyphs" transform="translate(62.8 766.6) rotate(-90)">max 45</text>
<text x="-111.4" y="783.4" font-size="21" textLength="84.4" lengthAdjust="spacingAndGlyphs">M32x1.5</text>
<text x="-92.4" y="878.6" font-size="21.5" textLength="59" lengthAdjust="spacingAndGlyphs">G1/2&quot;</text></g>
<line class="t" x1="754.3" y1="25.0" x2="754.3" y2="325.5" />
<line class="t" x1="754.3" y1="412.5" x2="754.3" y2="713.2" />
<text x="52.2" y="132.2" font-size="26.8" text-anchor="start" textLength="86.3" lengthAdjust="spacingAndGlyphs">SC4011</text>
</svg>
</body></html>
